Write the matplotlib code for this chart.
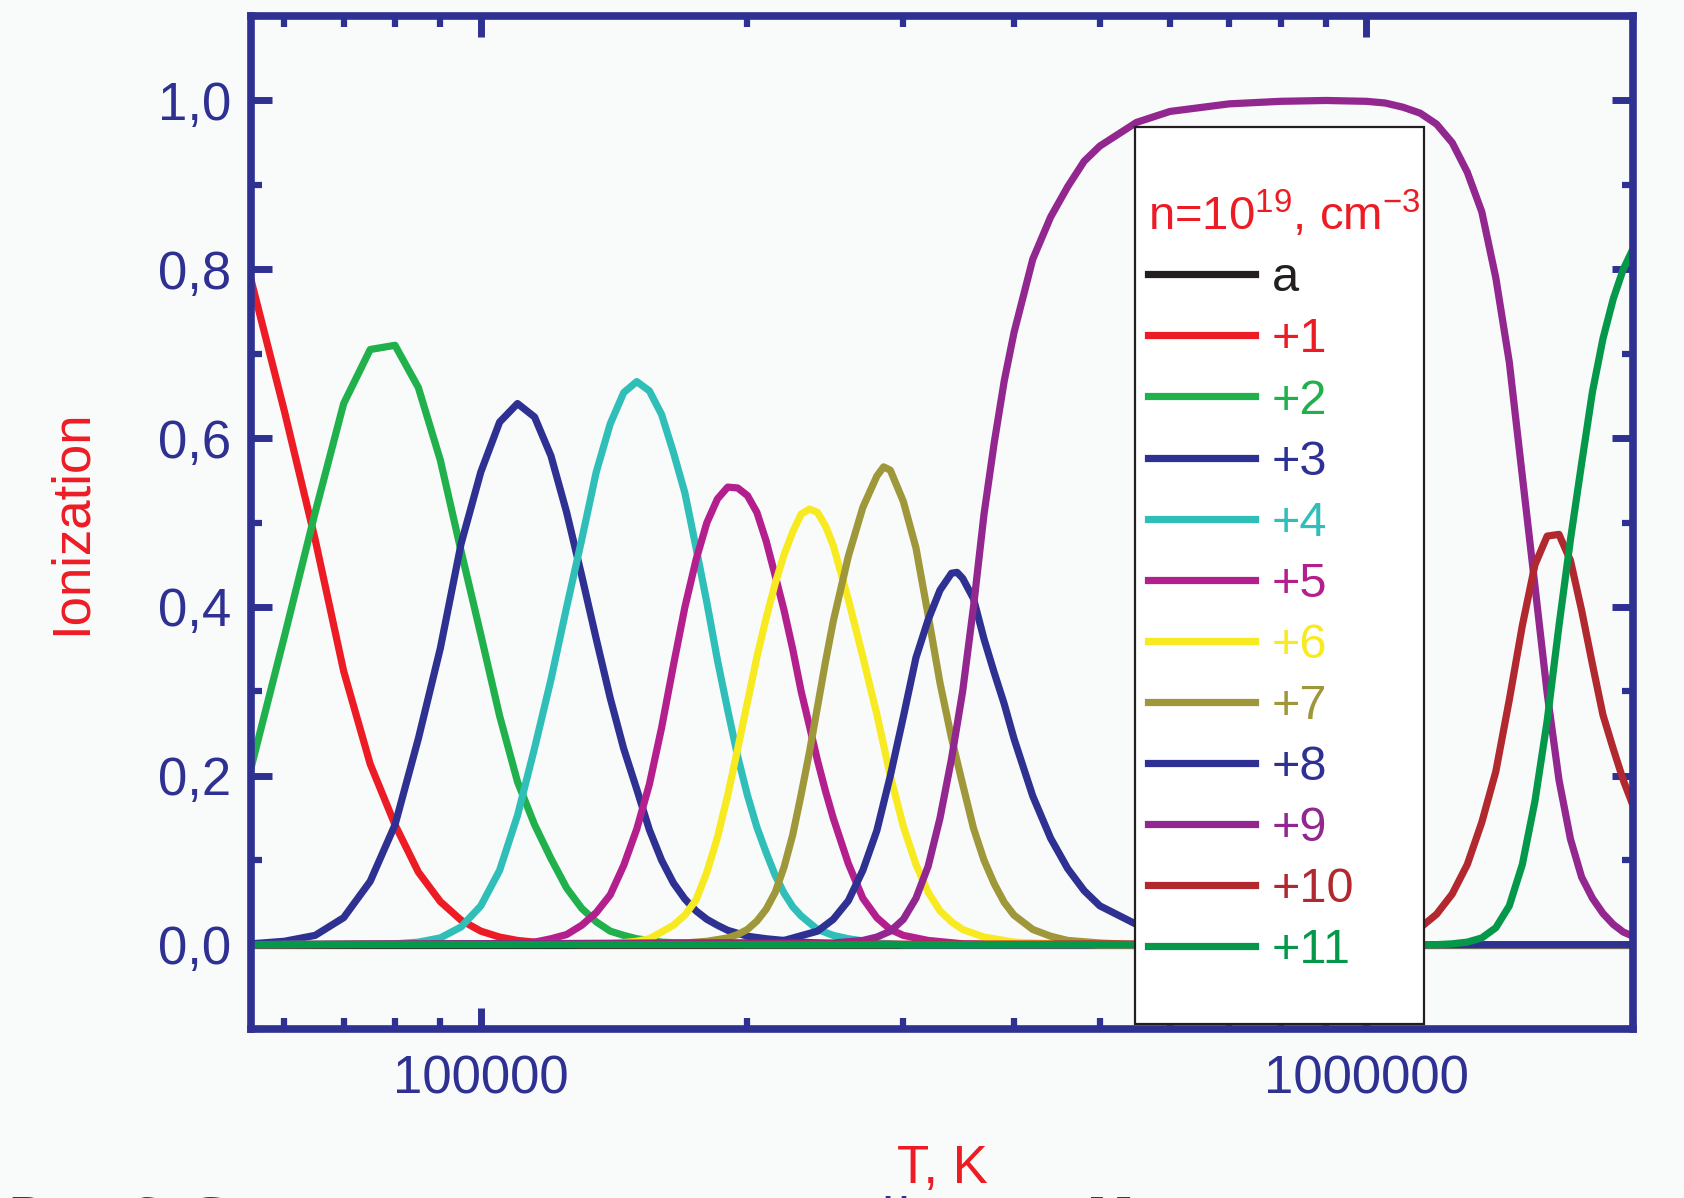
import numpy as np
import matplotlib
matplotlib.use("Agg")
from matplotlib import pyplot as plt
from matplotlib.patches import Rectangle
from matplotlib.ticker import FixedLocator, FuncFormatter, LogLocator, MultipleLocator, NullFormatter

plt.rcParams["font.family"] = ["Liberation Sans", "DejaVu Sans"]
plt.rcParams["mathtext.fontset"] = "custom"
plt.rcParams["mathtext.rm"] = "Liberation Sans"
plt.rcParams["mathtext.default"] = "regular"

NAVY = "#2e3192"
RED = "#ed1c24"
BG = "#f9fbfb"

# temperatures in 10^3 K, ionization fractions
t_a = [55, 2000]
y_a = [0.0, 0.0]

t_1 = [55, 60, 65, 70, 75, 80, 85, 90, 95, 100, 105, 110, 115, 120, 130, 2000]
y_1 = [0.788, 0.632, 0.480, 0.324, 0.214, 0.142, 0.086, 0.051, 0.029, 0.016,
       0.009, 0.005, 0.003, 0.001, 0.0, 0.0]

t_2 = [55, 60, 65, 70, 75, 80, 85, 90, 95, 100, 105, 110, 115, 120, 125, 130,
       135, 140, 145, 150, 160, 175, 200, 2000]
y_2 = [0.209, 0.365, 0.512, 0.641, 0.705, 0.710, 0.660, 0.574, 0.466, 0.367,
       0.271, 0.193, 0.142, 0.102, 0.067, 0.043, 0.027, 0.016, 0.011, 0.007,
       0.003, 0.001, 0.0, 0.0]

t_3 = [55, 60, 65, 70, 75, 80, 85, 90, 95, 100, 105, 110, 115, 120, 125, 130,
       135, 140, 145, 150, 155, 160, 165, 170, 175, 180, 185, 190, 200, 210,
       230, 250, 300, 2000]
y_3 = [0.001, 0.004, 0.011, 0.032, 0.075, 0.142, 0.244, 0.351, 0.475, 0.560,
       0.619, 0.641, 0.625, 0.579, 0.512, 0.437, 0.362, 0.292, 0.232, 0.184,
       0.136, 0.100, 0.073, 0.054, 0.040, 0.030, 0.023, 0.017, 0.010, 0.007,
       0.003, 0.001, 0.0, 0.0]

t_4 = [55, 80, 85, 90, 95, 100, 105, 110, 115, 120, 125, 130, 135, 140, 145,
       150, 155, 160, 165, 170, 175, 180, 185, 190, 195, 200, 205, 210, 215,
       220, 225, 230, 240, 250, 260, 280, 300, 2000]
y_4 = [0.0, 0.001, 0.003, 0.008, 0.021, 0.046, 0.088, 0.153, 0.233, 0.314,
       0.400, 0.480, 0.560, 0.617, 0.654, 0.667, 0.656, 0.628, 0.583, 0.535,
       0.470, 0.405, 0.337, 0.278, 0.223, 0.177, 0.139, 0.109, 0.082, 0.061,
       0.045, 0.034, 0.018, 0.011, 0.007, 0.002, 0.0, 0.0]

t_5 = [55, 110, 115, 120, 125, 130, 135, 140, 145, 150, 155, 160, 165, 170,
       175, 180, 185, 190, 195, 200, 205, 210, 215, 220, 225, 230, 235, 240,
       245, 250, 260, 270, 280, 290, 300, 320, 350, 400, 2000]
y_5 = [0.0, 0.001, 0.003, 0.007, 0.012, 0.023, 0.038, 0.059, 0.094, 0.137,
       0.190, 0.257, 0.331, 0.400, 0.456, 0.500, 0.528, 0.542, 0.541, 0.532,
       0.512, 0.478, 0.437, 0.396, 0.350, 0.300, 0.259, 0.218, 0.182, 0.150,
       0.096, 0.055, 0.032, 0.018, 0.011, 0.005, 0.001, 0.0, 0.0]

t_6 = [55, 140, 150, 155, 160, 165, 170, 175, 180, 185, 190, 195, 200, 205,
       210, 215, 220, 225, 230, 235, 240, 245, 250, 260, 270, 280, 290, 300,
       310, 320, 330, 340, 350, 370, 400, 450, 500, 2000]
y_6 = [0.0, 0.001, 0.004, 0.007, 0.015, 0.023, 0.035, 0.053, 0.086, 0.127,
       0.177, 0.232, 0.287, 0.341, 0.387, 0.428, 0.462, 0.489, 0.510, 0.516,
       0.512, 0.496, 0.473, 0.409, 0.341, 0.273, 0.200, 0.140, 0.095, 0.062,
       0.040, 0.027, 0.018, 0.009, 0.003, 0.001, 0.0, 0.0]

t_7 = [55, 170, 180, 185, 190, 195, 200, 205, 210, 215, 220, 225, 230, 235,
       240, 245, 250, 260, 270, 280, 285, 290, 300, 310, 320, 330, 340, 350,
       360, 370, 380, 390, 400, 420, 440, 460, 500, 550, 2000]
y_7 = [0.0, 0.002, 0.004, 0.006, 0.008, 0.012, 0.018, 0.028, 0.042, 0.062,
       0.092, 0.130, 0.178, 0.228, 0.282, 0.335, 0.383, 0.460, 0.518, 0.555,
       0.566, 0.562, 0.525, 0.470, 0.390, 0.310, 0.245, 0.190, 0.138, 0.100,
       0.072, 0.050, 0.035, 0.018, 0.010, 0.005, 0.002, 0.0, 0.0]

t_8 = [55, 200, 220, 240, 250, 260, 270, 280, 290, 300, 310, 320, 330, 340,
       345, 350, 360, 370, 380, 390, 400, 420, 440, 460, 480, 500, 550, 600,
       700, 800, 900, 2000]
y_8 = [0.0, 0.002, 0.005, 0.016, 0.030, 0.052, 0.088, 0.135, 0.200, 0.270,
       0.340, 0.385, 0.420, 0.440, 0.441, 0.434, 0.410, 0.362, 0.322, 0.285,
       0.244, 0.176, 0.126, 0.090, 0.064, 0.046, 0.024, 0.010, 0.003, 0.001,
       0.0, 0.0]

t_9 = [55, 250, 270, 280, 290, 300, 310, 320, 330, 340, 350, 360, 370, 380,
       390, 400, 420, 440, 460, 480, 500, 550, 600, 700, 800, 900, 1000, 1050,
       1100, 1150, 1200, 1250, 1300, 1350, 1400, 1450, 1500, 1550, 1600, 1650,
       1700, 1750, 1800, 1850, 1900, 1950, 2000]
y_9 = [0.0, 0.002, 0.005, 0.009, 0.016, 0.030, 0.055, 0.093, 0.150, 0.220,
       0.300, 0.400, 0.510, 0.595, 0.668, 0.725, 0.812, 0.862, 0.898, 0.928,
       0.946, 0.974, 0.987, 0.996, 0.999, 1.000, 0.999, 0.997, 0.992, 0.985,
       0.972, 0.950, 0.915, 0.868, 0.790, 0.690, 0.555, 0.425, 0.298, 0.195,
       0.125, 0.080, 0.055, 0.037, 0.024, 0.015, 0.010]

t_10 = [55, 900, 1000, 1100, 1150, 1200, 1250, 1300, 1350, 1400, 1450, 1500,
        1550, 1600, 1650, 1700, 1750, 1800, 1850, 1900, 1950, 2000]
y_10 = [0.0, 0.001, 0.004, 0.012, 0.020, 0.036, 0.060, 0.095, 0.145, 0.205,
        0.290, 0.378, 0.450, 0.484, 0.486, 0.455, 0.396, 0.332, 0.272, 0.232,
        0.195, 0.165]

t_11 = [55, 1200, 1250, 1300, 1350, 1400, 1450, 1500, 1550, 1600, 1650, 1700,
        1750, 1800, 1850, 1900, 1950, 2000]
y_11 = [0.0, 0.0, 0.001, 0.003, 0.008, 0.020, 0.046, 0.095, 0.170, 0.265,
        0.378, 0.480, 0.570, 0.655, 0.718, 0.765, 0.800, 0.824]

labels = ["a", "+1", "+2", "+3", "+4", "+5", "+6", "+7", "+8", "+9", "+10", "+11"]
colors = ["#231f20", "#ed1c24", "#20b14c", "#2e3192", "#30bfb8", "#b41f8e",
          "#f8ea20", "#9f983a", "#2e3192", "#92278f", "#b1282e", "#05984a"]
series = [(t_a, y_a), (t_1, y_1), (t_2, y_2), (t_3, y_3), (t_4, y_4), (t_5, y_5),
          (t_6, y_6), (t_7, y_7), (t_8, y_8), (t_9, y_9), (t_10, y_10), (t_11, y_11)]

fig = plt.figure(figsize=(16.84, 11.98), dpi=100, facecolor=BG)
ax = fig.add_axes([0.149, 0.141, 0.8207, 0.8456], facecolor=BG)

handles = []
for (t, y), color, label in zip(series, colors, labels):
    line, = ax.plot(np.array(t) * 1e3, y, color=color, lw=5.2, label=label)
    handles.append(line)

ax.set_xscale("log")
ax.set_xlim(55000, 2e6)
ax.set_ylim(-0.1, 1.1)

ax.xaxis.set_major_locator(FixedLocator([1e5, 1e6]))
ax.xaxis.set_major_formatter(FuncFormatter(lambda v, p: f"{v:.0f}"))
ax.xaxis.set_minor_locator(LogLocator(base=10, subs=range(2, 10)))
ax.xaxis.set_minor_formatter(NullFormatter())
ax.yaxis.set_major_locator(MultipleLocator(0.2))
ax.yaxis.set_minor_locator(MultipleLocator(0.1))
ax.yaxis.set_major_formatter(FuncFormatter(lambda v, p: f"{v:.1f}".replace(".", ",")))

ax.tick_params(which="both", direction="in", top=True, right=True,
               color=NAVY, labelcolor=NAVY, labelsize=38)
ax.tick_params(which="major", length=15, width=5)
ax.tick_params(which="minor", length=8, width=4.5)
ax.tick_params(axis="y", pad=14)
ax.tick_params(axis="x", pad=18)
for sp in ax.spines.values():
    sp.set_color(NAVY)
    sp.set_linewidth(5.5)

ax.set_xlabel("T, K", color=RED, fontsize=38)
ax.set_ylabel("Ionization", color=RED, fontsize=38)
ax.xaxis.set_label_coords(0.5, -0.113)
ax.yaxis.set_label_coords(-0.112, 0.5)

ax.add_patch(Rectangle((0.640, 0.005), 0.209, 0.885, transform=ax.transAxes,
                       facecolor="white", edgecolor="#231f20", lw=1.6, zorder=3))
leg = ax.legend(handles=handles, labels=labels, loc="upper left",
                bbox_to_anchor=(0.649, 0.829), frameon=False, fontsize=35,
                handlelength=2.2, handletextpad=0.35, labelspacing=0.33,
                borderpad=0, borderaxespad=0, alignment="left",
                title="n=10$^{19}$, cm$^{-3}$", title_fontsize=34,
                labelcolor="linecolor")
leg.get_title().set_color(RED)
leg.set_zorder(5)

fig.text(0.0065, -0.031, "Рис. 6. Спектр зарядовых состояний ионов Na в зависимости от температуры",
         family="Liberation Serif", fontsize=42, color=NAVY, va="baseline")

fig.savefig("out.png", dpi=100, facecolor=BG)
